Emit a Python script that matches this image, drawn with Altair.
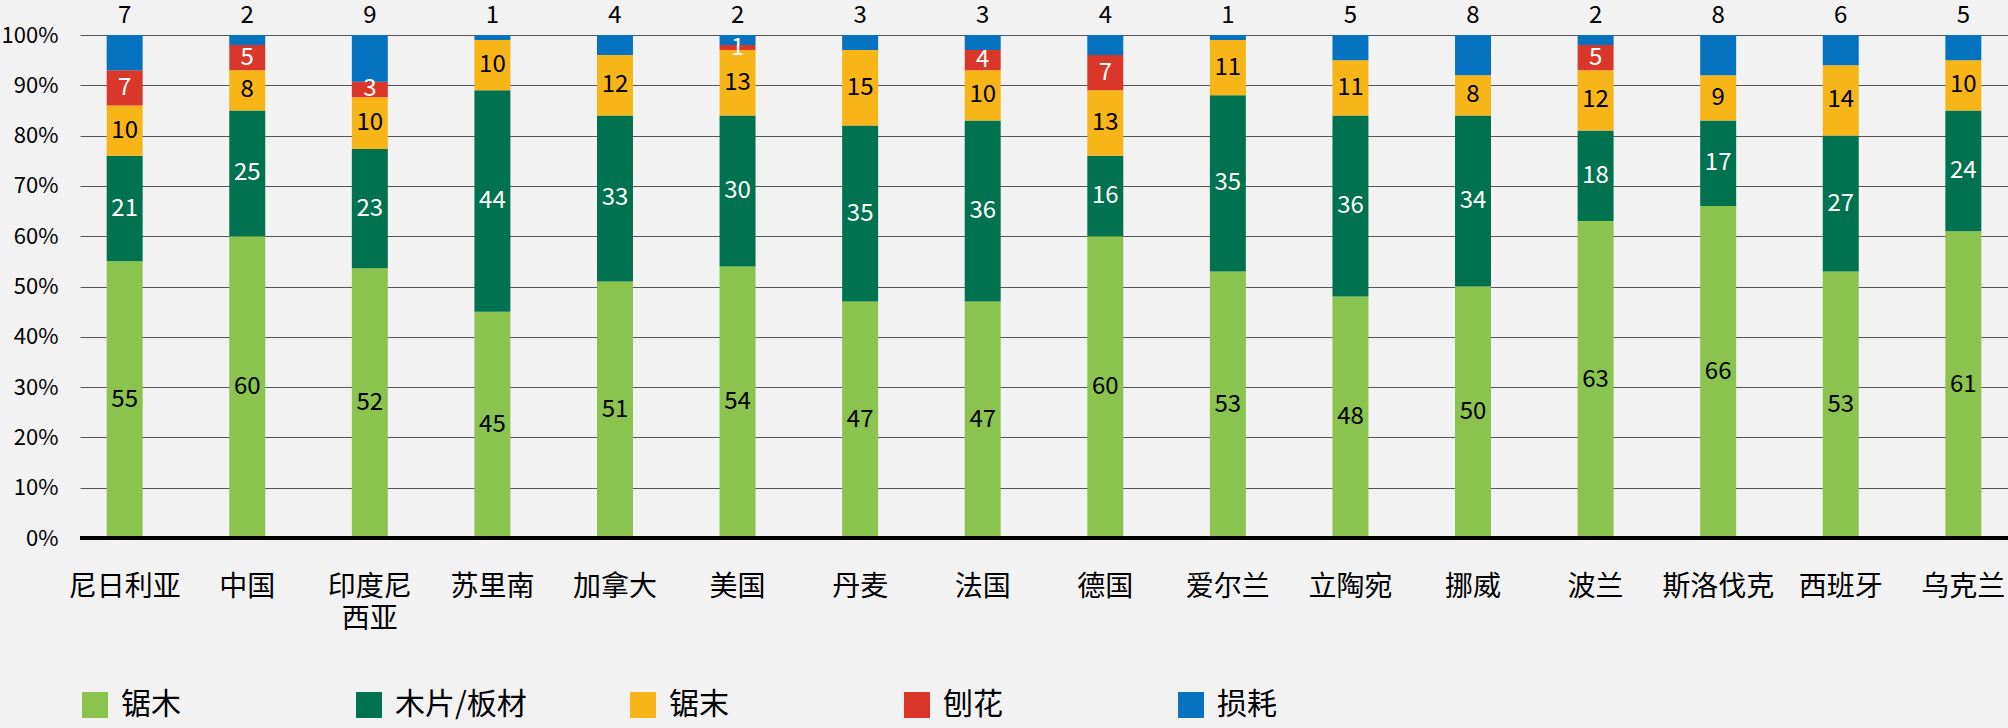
import altair as alt
import pandas as pd

countries = ["尼日利亚", "中国", "印度尼西亚", "苏里南", "加拿大", "美国", "丹麦", "法国",
             "德国", "爱尔兰", "立陶宛", "挪威", "波兰", "斯洛伐克", "西班牙", "乌克兰"]
categories = ["锯木", "木片/板材", "锯末", "刨花", "损耗"]
colors = ["#8bc34f", "#00724f", "#f8b518", "#d9372a", "#0673c1"]
label_colors = ["black", "white", "black", "white", "black"]

lumber   = [55, 60, 52, 45, 51, 54, 47, 47, 60, 53, 48, 50, 63, 66, 53, 61]
chips    = [21, 25, 23, 44, 33, 30, 35, 36, 16, 35, 36, 34, 18, 17, 27, 24]
sawdust  = [10, 8, 10, 10, 12, 13, 15, 10, 13, 11, 11, 8, 12, 9, 14, 10]
shavings = [7, 5, 3, 0, 0, 1, 0, 4, 7, 0, 0, 0, 5, 0, 0, 0]
loss     = [7, 2, 9, 1, 4, 2, 3, 3, 4, 1, 5, 8, 2, 8, 6, 5]

series = [lumber, chips, sawdust, shavings, loss]
rows = []
for ci, c in enumerate(countries):
    for k, cat in enumerate(categories):
        rows.append({"country": c, "cat": cat, "idx": k, "value": series[k][ci],
                     "tcolor": label_colors[k]})
df = pd.DataFrame(rows)

FONT = "Noto Sans CJK SC"

xenc = alt.X("country:N", sort=countries, title=None,
             scale=alt.Scale(paddingInner=0.7065, paddingOuter=0.2177),
             axis=alt.Axis(domain=False, ticks=False, labelAngle=0, labelFontSize=28,
                           labelFont=FONT, labelColor="black", labelPadding=35,
                           labelLineHeight=32, labelBaseline="top",
                           labelExpr="datum.label == '印度尼西亚' ? ['印度尼', '西亚'] : datum.label"))

base = alt.Chart(df).transform_stack(
    stack="value", groupby=["country"], as_=["y0", "y1"], offset="normalize",
    sort=[alt.SortField("idx", order="ascending")]
).transform_calculate(mid="(datum.y0 + datum.y1) / 2")

yscale = alt.Scale(domain=[0, 1], nice=False)

bars = base.mark_bar().encode(
    x=xenc,
    y=alt.Y("y0:Q", scale=yscale, title=None,
            axis=alt.Axis(values=[i / 10 for i in range(11)], format=".0%", domain=False,
                          ticks=False, labelFontSize=22, labelFont=FONT, labelColor="black",
                          labelPadding=22, grid=True, gridColor="#555", gridWidth=1)),
    y2="y1:Q",
    color=alt.Color("cat:N", sort=categories,
                    scale=alt.Scale(domain=categories, range=colors),
                    legend=alt.Legend(title=None, orient="none", legendX=0, legendY=655,
                                      direction="horizontal", symbolType="square",
                                      symbolSize=676, symbolStrokeWidth=0, labelFont=FONT,
                                      labelFontSize=30, labelColor="black", labelOffset=11,
                                      gridAlign="all", columnPadding=101, padding=0,
                                      symbolOpacity=1)),
)

inner = base.transform_filter("datum.idx < 4 && datum.value > 0").mark_text(
    font=FONT, fontSize=24, baseline="middle", align="center"
).encode(
    x=alt.X("country:N", sort=countries),
    y=alt.Y("mid:Q", scale=yscale),
    text="value:Q",
    color=alt.Color("tcolor:N", scale=None),
)

top = base.transform_filter("datum.idx == 4").mark_text(
    font=FONT, fontSize=24, baseline="middle", align="center", color="black"
).encode(
    x=alt.X("country:N", sort=countries),
    y=alt.value(-19),
    text="value:Q",
)

zero = alt.Chart(pd.DataFrame({"v": [0]})).mark_rule(color="black", strokeWidth=4).encode(
    y=alt.Y("v:Q", scale=yscale)
)

chart = alt.layer(bars, zero, inner, top).properties(
    width=1928, height=503,
    autosize=alt.AutoSizeParams(type="none"),
    padding={"left": 80, "top": 35, "right": 0, "bottom": 190},
).configure(background="#f2f2f2").configure_view(stroke=None)

chart.save("out.html", embed_options={"renderer": "svg", "actions": False})
